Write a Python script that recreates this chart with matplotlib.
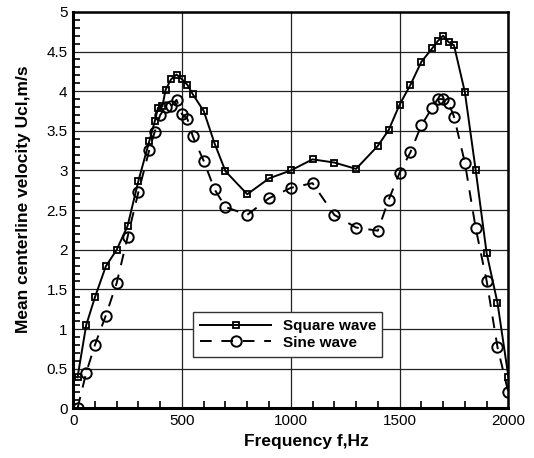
import matplotlib.pyplot as plt
import numpy as np
from matplotlib.ticker import MultipleLocator

# Square wave data (Hz, m/s)
square_f = [20, 60, 100, 150, 200, 250, 300, 350, 375, 390, 410, 425, 450, 475,
            500, 525, 550, 600, 650, 700, 800, 900, 1000, 1100, 1200, 1300,
            1400, 1450, 1500, 1550, 1600, 1650, 1675, 1700, 1725, 1750, 1800,
            1850, 1900, 1950, 2000]
square_u = [0.39, 1.05, 1.40, 1.79, 2.00, 2.30, 2.87, 3.37, 3.62, 3.79, 3.81,
            4.02, 4.15, 4.21, 4.15, 4.08, 3.96, 3.75, 3.34, 2.99, 2.70, 2.90,
            3.00, 3.14, 3.10, 3.02, 3.31, 3.51, 3.83, 4.08, 4.37, 4.54, 4.63,
            4.70, 4.62, 4.58, 3.99, 3.00, 1.96, 1.33, 0.40]

# Sine wave data (Hz, m/s)
sine_f = [20, 60, 100, 150, 200, 250, 300, 350, 375, 400, 425, 450, 475, 500,
          525, 550, 600, 650, 700, 800, 900, 1000, 1100, 1200, 1300, 1400,
          1450, 1500, 1550, 1600, 1650, 1675, 1700, 1725, 1750, 1800, 1850,
          1900, 1950, 2000]
sine_u = [0.0, 0.45, 0.80, 1.17, 1.58, 2.16, 2.73, 3.26, 3.49, 3.70, 3.80,
          3.81, 3.89, 3.71, 3.65, 3.43, 3.12, 2.76, 2.54, 2.44, 2.65, 2.78,
          2.84, 2.44, 2.28, 2.24, 2.63, 2.97, 3.23, 3.57, 3.79, 3.90, 3.90,
          3.85, 3.68, 3.10, 2.27, 1.61, 0.77, 0.20]

plt.rcParams["font.family"] = ["Liberation Sans", "DejaVu Sans"]

fig = plt.figure(figsize=(5.34, 4.58), dpi=100)
ax = fig.add_axes([0.137, 0.1085, 0.815, 0.8655])

ax.plot(square_f, square_u, color="black", linewidth=1.4, marker="s",
        markersize=5, markerfacecolor="none", markeredgewidth=1.3,
        label="Square wave")
ax.plot(sine_f, sine_u, color="black", linewidth=1.4, linestyle=(0, (6, 5)),
        marker="o", markersize=7.5, markerfacecolor="none",
        markeredgewidth=1.4, label="Sine wave")

ax.set_xlim(0, 2000)
ax.set_ylim(0, 5)
ax.xaxis.set_major_locator(MultipleLocator(500))
ax.xaxis.set_minor_locator(MultipleLocator(100))
ax.yaxis.set_major_locator(MultipleLocator(0.5))
ax.yaxis.set_minor_locator(MultipleLocator(0.1))
ax.yaxis.set_major_formatter(plt.FuncFormatter(lambda v, p: f"{v:g}"))

ax.tick_params(which="both", direction="in", top=False, right=False,
               labelsize=11, width=1.2)
ax.tick_params(which="major", length=0, pad=4)
ax.tick_params(which="minor", length=5)

ax.grid(True, which="major", color="#222222", linewidth=0.9)
for s in ax.spines.values():
    s.set_linewidth(1.8)
ax.spines["left"].set_linewidth(2.2)
ax.spines["bottom"].set_linewidth(2.2)

ax.set_xlabel("Frequency f,Hz", fontsize=12.5, fontweight="bold")
ax.xaxis.set_label_coords(0.537, -0.066)
ax.set_ylabel("Mean centerline velocity Ucl,m/s", fontsize=12.5,
              fontweight="bold")
ax.yaxis.set_label_coords(-0.096, 0.528)

leg = ax.legend(loc="lower left", bbox_to_anchor=(0.275, 0.129, 0.434, 0.136),
                mode="expand", fancybox=False, framealpha=1,
                edgecolor="#333333", handlelength=4.6,
                prop={"weight": "bold", "size": 11}, borderaxespad=0,
                borderpad=0.5, labelspacing=0.15, handletextpad=0.8)
leg.get_frame().set_linewidth(1.0)

fig.savefig("out.png", dpi=100)
